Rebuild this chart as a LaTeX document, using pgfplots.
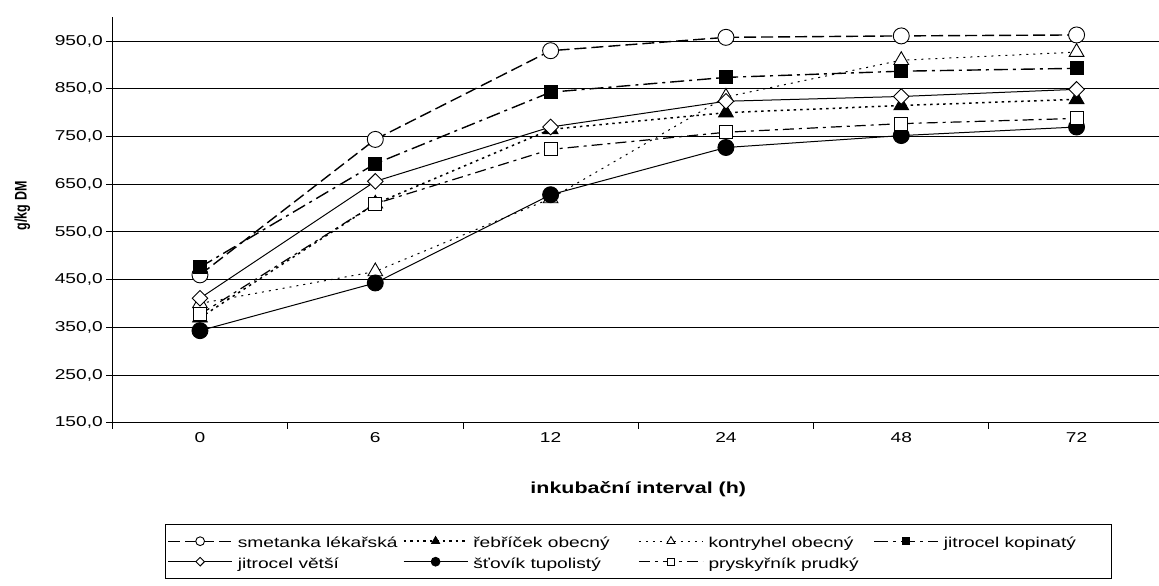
\documentclass[border=0pt]{standalone}
\usepackage{fontspec}
\setmainfont{Liberation Sans}[FakeStretch=1.34]
\newfontfamily\ylabfont{Liberation Sans}
\usepackage{pgfplots}
\pgfplotsset{compat=1.18}
\usepackage{graphicx}
\newcommand{\lent}[1]{\makebox[166pt][l]{\rule[-6pt]{0pt}{21pt}\hspace{3pt}#1}}
\newcommand{\lentb}[1]{\makebox[166pt][l]{\rule[-16pt]{0pt}{31pt}\hspace{3pt}#1}}
\begin{document}
\begin{tikzpicture}
\begin{axis}[
  scale only axis,
  width=1052pt, height=405.4pt,
  xmin=-0.5, xmax=5.5, ymin=150, ymax=1000,
  axis x line*=bottom, axis y line*=left,
  axis line style={line width=0.9pt},
  xtick={0,1,2,3,4,5},
  xticklabels={0,6,12,24,48,72},
  major x tick style={draw=none},
  minor xtick={-0.5,0.5,1.5,2.5,3.5,4.5,5.5},
  minor tick length=6pt,
  major tick length=6pt,
  tick align=outside,
  tick style={black, line width=0.9pt},
  ytick={150,250,...,950},
  ymajorgrids,
  major grid style={black, line width=0.9pt},
  yticklabel style={/pgf/number format/.cd, fixed, fixed zerofill, precision=1, use comma, assume math mode=true},
  ticklabel style={font=\fontsize{14.3}{16}\selectfont},
  xlabel={\bfseries\fontsize{16}{18}\selectfont inkubační interval (h)},
  xlabel style={anchor=center, at={(axis description cs:0.5,-0.165)}},
  ylabel={\scalebox{1}[1.34]{\ylabfont\bfseries\fontsize{12.5}{14}\selectfont g/kg DM}},
  ylabel style={anchor=center, at={(axis description cs:-0.0856,0.535)}},
  legend columns=4,
  legend cell align=left,
  legend style={at={(0.0501,-0.2499)}, anchor=north west, draw=black, line width=0.9pt,
    inner xsep=2pt, inner ysep=6.5pt, column sep=0pt, row sep=0pt,
    font=\fontsize{14.3}{16}\selectfont},
  legend image code/.code={\draw[mark repeat=2, mark phase=2, #1, every mark/.append style={scale=0.55}] plot coordinates {(0pt,0pt) (32pt,0pt) (64pt,0pt)};},
]
\addplot[black, line width=1.4pt, dash pattern=on 12pt off 5pt, mark=*, mark size=8pt, mark options={solid, fill=white, line width=0.9pt}]
  coordinates {(0,460) (1,744) (2,930) (3,958) (4,961) (5,963)};
\addlegendentry{\lent{smetanka lékařská}}
\addplot[black, line width=1.5pt, dash pattern=on 2.5pt off 4pt, mark=triangle*, mark size=8.5pt, mark options={solid, fill=black, line width=0.9pt}]
  coordinates {(0,370) (1,609) (2,765) (3,800) (4,815) (5,828)};
\addlegendentry{\lent{řebříček obecný}}
\addplot[black, line width=1.0pt, dash pattern=on 2pt off 5pt, mark=triangle*, mark size=8.5pt, mark options={solid, fill=white, line width=0.9pt}]
  coordinates {(0,400) (1,467) (2,620) (3,833) (4,910) (5,927)};
\addlegendentry{\lent{kontryhel obecný}}
\addplot[black, line width=1.4pt, dash pattern=on 14pt off 5pt on 3pt off 5pt, mark=square*, mark size=6.5pt, mark options={solid, fill=black, line width=0.9pt}]
  coordinates {(0,476) (1,693) (2,843) (3,874) (4,887) (5,893)};
\addlegendentry{\lent{jitrocel kopinatý}}
\addplot[black, line width=1.0pt, solid, mark=square*, mark size=5.5pt, mark options={solid, rotate=45, fill=white, line width=0.9pt}]
  coordinates {(0,411) (1,656) (2,770) (3,824) (4,834) (5,849)};
\addlegendentry{\lentb{jitrocel větší}}
\addplot[black, line width=1.0pt, solid, mark=*, mark size=8pt, mark options={solid, fill=black, line width=0.9pt}]
  coordinates {(0,343) (1,443) (2,628) (3,727) (4,752) (5,770)};
\addlegendentry{\lentb{šťovík tupolistý}}
\addplot[black, line width=1.2pt, dash pattern=on 11pt off 5pt on 3pt off 5pt, mark=square*, mark size=6.5pt, mark options={solid, fill=white, line width=0.9pt}]
  coordinates {(0,377) (1,609) (2,723) (3,759) (4,777) (5,788)};
\addlegendentry{\lentb{pryskyřník prudký}}
\end{axis}
\pgfresetboundingbox
\path (current axis.south west) ++(-112.3pt,-163.3pt) rectangle ++(1159pt,586pt);
\end{tikzpicture}
\end{document}
